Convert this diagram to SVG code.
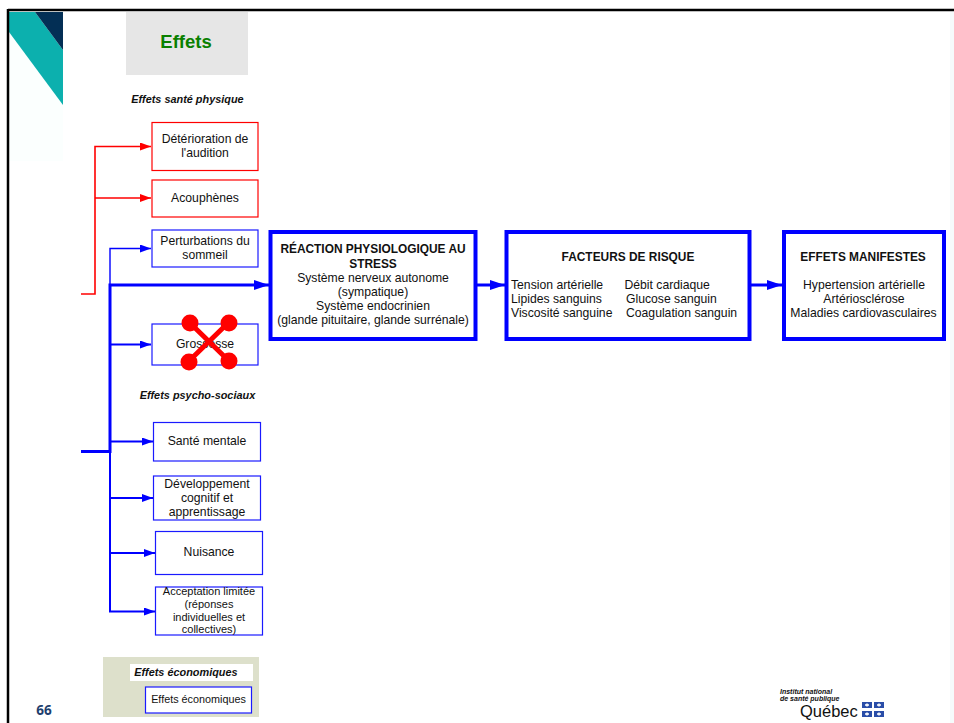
<svg xmlns="http://www.w3.org/2000/svg" width="954" height="723" viewBox="0 0 954 723">
<style>
text{font-family:"Liberation Sans",Arial,sans-serif;font-size:12.2px;fill:#111;text-anchor:middle}
.b{font-weight:700;font-size:11.9px}
.h{font-weight:700;font-style:italic;font-size:10.9px}
.rb{fill:#fff;stroke:#f00;stroke-width:1.2}
.bb{fill:#fff;stroke:#1a1aff;stroke-width:1.2}
.tb{fill:#fff;stroke:#00f;stroke-width:4}
.l{text-anchor:start}
.c{fill:none;stroke:#00f;stroke-width:2}
.t{fill:none;stroke:#00f;stroke-width:3}
.r{fill:none;stroke:#f00;stroke-width:1.6}
</style>
<defs>
<marker id="ab" markerUnits="userSpaceOnUse" markerWidth="12" markerHeight="10" refX="11" refY="4" orient="auto"><path d="M0 0L11 4L0 8Z" fill="#00f"/></marker>
<marker id="abl" markerUnits="userSpaceOnUse" markerWidth="16" markerHeight="12" refX="15" refY="5" orient="auto"><path d="M0 0L15 5L0 10Z" fill="#00f"/></marker>
<marker id="ar" markerUnits="userSpaceOnUse" markerWidth="12" markerHeight="10" refX="11" refY="4" orient="auto"><path d="M0 0L11 4L0 8Z" fill="#f00"/></marker>
</defs>
<rect width="954" height="723" fill="#fff"/>
<g id="background">
<rect x="9" y="11" width="54" height="150" fill="#fbfffe"/>
<path d="M9 12H35L63 50V105L9 32Z" fill="#0cb0ae"/>
<path d="M35 12H63V50Z" fill="#032f55"/>
<path d="M8 10H954" stroke="#000" stroke-width="2.5" fill="none"/>
<path d="M8 9V723" stroke="#000" stroke-width="2.5" fill="none"/>
<rect x="950" y="12" width="4" height="711" fill="#f6fbfc"/>
</g>
<g id="header-effets"><rect x="126" y="12" width="122" height="63" fill="#e6e6e6"/><text x="186" y="48" style="font-size:18.5px;font-weight:700;fill:#0a8000">Effets</text></g>
<text x="187.500" y="103" class="h">Effets santé physique</text>
<text x="197.500" y="399" class="h">Effets psycho-sociaux</text>
<g id="connectors">
<path class="r" d="M81 294H95V146.500H151" marker-end="url(#ar)"/>
<path class="r" d="M95 198H151" marker-end="url(#ar)"/>
<path class="c" d="M110 285V248.500H151" marker-end="url(#ab)" style="stroke-width:1.4"/>
<path class="t" d="M81 451.500H110V285H269" marker-end="url(#abl)"/>
<path class="c" d="M110 451V611.500H155" marker-end="url(#ab)"/>
<path class="c" d="M110 344.500H151" marker-end="url(#ab)"/>
<path class="c" d="M110 441.500H153" marker-end="url(#ab)"/>
<path class="c" d="M110 498H153" marker-end="url(#ab)"/>
<path class="c" d="M110 553H155" marker-end="url(#ab)"/>
<path class="t" d="M477 285H505" marker-end="url(#abl)"/>
<path class="t" d="M751 285H782" marker-end="url(#abl)"/>
</g>
<g id="n1"><rect class="rb" x="152" y="122.500" width="106" height="48"/><text x="205" y="143">Détérioration de</text><text x="205" y="157">l'audition</text></g>
<g id="n2"><rect class="rb" x="152" y="180" width="106" height="37"/><text x="205" y="202">Acouphènes</text></g>
<g id="n3"><rect class="bb" x="152" y="230" width="106" height="37"/><text x="205" y="245">Perturbations du</text><text x="205" y="259">sommeil</text></g>
<g id="n4"><rect class="bb" x="152" y="324" width="106" height="41"/><text x="205" y="348">Grossesse</text></g>
<g id="cross">
<path d="M190 323L229 361M228 323L189 361" stroke="#f00" stroke-width="5" fill="none"/>
<circle cx="190" cy="323" r="8.500" fill="#f00"/><circle cx="229" cy="323" r="8.500" fill="#f00"/><circle cx="189" cy="362" r="8.500" fill="#f00"/><circle cx="229" cy="361" r="8.500" fill="#f00"/>
</g>
<g id="n5"><rect class="bb" x="153.500" y="422.500" width="107" height="38.500"/><text x="207" y="445">Santé mentale</text></g>
<g id="n6"><rect class="bb" x="153.500" y="476" width="107" height="44"/><text x="207" y="488">Développement</text><text x="207" y="502">cognitif et</text><text x="207" y="516">apprentissage</text></g>
<g id="n7"><rect class="bb" x="155.500" y="531.500" width="107" height="43"/><text x="209" y="556">Nuisance</text></g>
<g id="n8"><rect class="bb" x="155.500" y="587" width="107" height="48"/><text x="209" y="595" style="font-size:11px">Acceptation limitée</text><text x="209" y="608" style="font-size:11px">(réponses</text><text x="209" y="621" style="font-size:11px">individuelles et</text><text x="209" y="633" style="font-size:11px">collectives)</text></g>
<g id="n9"><rect x="103" y="657" width="156" height="60" fill="#dde0cb"/><rect x="130" y="664" width="123" height="17" fill="#fff"/><text x="186" y="676" class="h">Effets économiques</text><rect class="bb" x="145.500" y="687" width="106" height="26"/><text x="198.500" y="703" style="font-size:10.8px">Effets économiques</text></g>
<g id="n10"><rect class="tb" x="270.500" y="232" width="205" height="107"/><text x="373" y="253" class="b">RÉACTION PHYSIOLOGIQUE AU</text><text x="373" y="268" class="b">STRESS</text><text x="373" y="282">Système nerveux autonome</text><text x="373" y="296">(sympatique)</text><text x="373" y="310">Système endocrinien</text><text x="373" y="324">(glande pituitaire, glande surrénale)</text></g>
<g id="n11"><rect class="tb" x="506.500" y="232" width="243" height="107"/><text x="628" y="261" class="b">FACTEURS DE RISQUE</text><text x="511" y="289" class="l">Tension artérielle</text><text x="511" y="303" class="l">Lipides sanguins</text><text x="511" y="317" class="l">Viscosité sanguine</text><text x="624.500" y="289" class="l">Débit cardiaque</text><text x="626" y="303" class="l">Glucose sanguin</text><text x="626" y="317" class="l">Coagulation sanguin</text></g>
<g id="n12"><rect class="tb" x="784" y="232" width="160" height="107"/><text x="863" y="261" class="b">EFFETS MANIFESTES</text><text x="864" y="289">Hypertension artérielle</text><text x="864" y="303">Artériosclérose</text><text x="863.500" y="317">Maladies cardiovasculaires</text></g>
<text x="44" y="715" style="font-family:'Open Sans','Liberation Sans',sans-serif;font-size:13.5px;font-weight:700;fill:#1f3f6e">66</text>
<g id="logo">
<text x="780" y="694" class="l" style="font-size:7px;font-weight:700;font-style:italic">Institut national</text>
<text x="780" y="701" class="l" style="font-size:7px;font-weight:700;font-style:italic">de santé publique</text>
<text x="800" y="717" class="l" style="font-size:16.5px">Québec</text>
<path d="M862 702h10v6h-10zM874 702h10v6h-10zM862 711h10v6h-10zM874 711h10v6h-10z" fill="#2a4da8"/>
<path d="M865 705h4M877 705h4M865 714h4M877 714h4M867 703.500v3M879 703.500v3M867 712.500v3M879 712.500v3" stroke="#fff" stroke-width="1.5"/>
</g>
</svg>
